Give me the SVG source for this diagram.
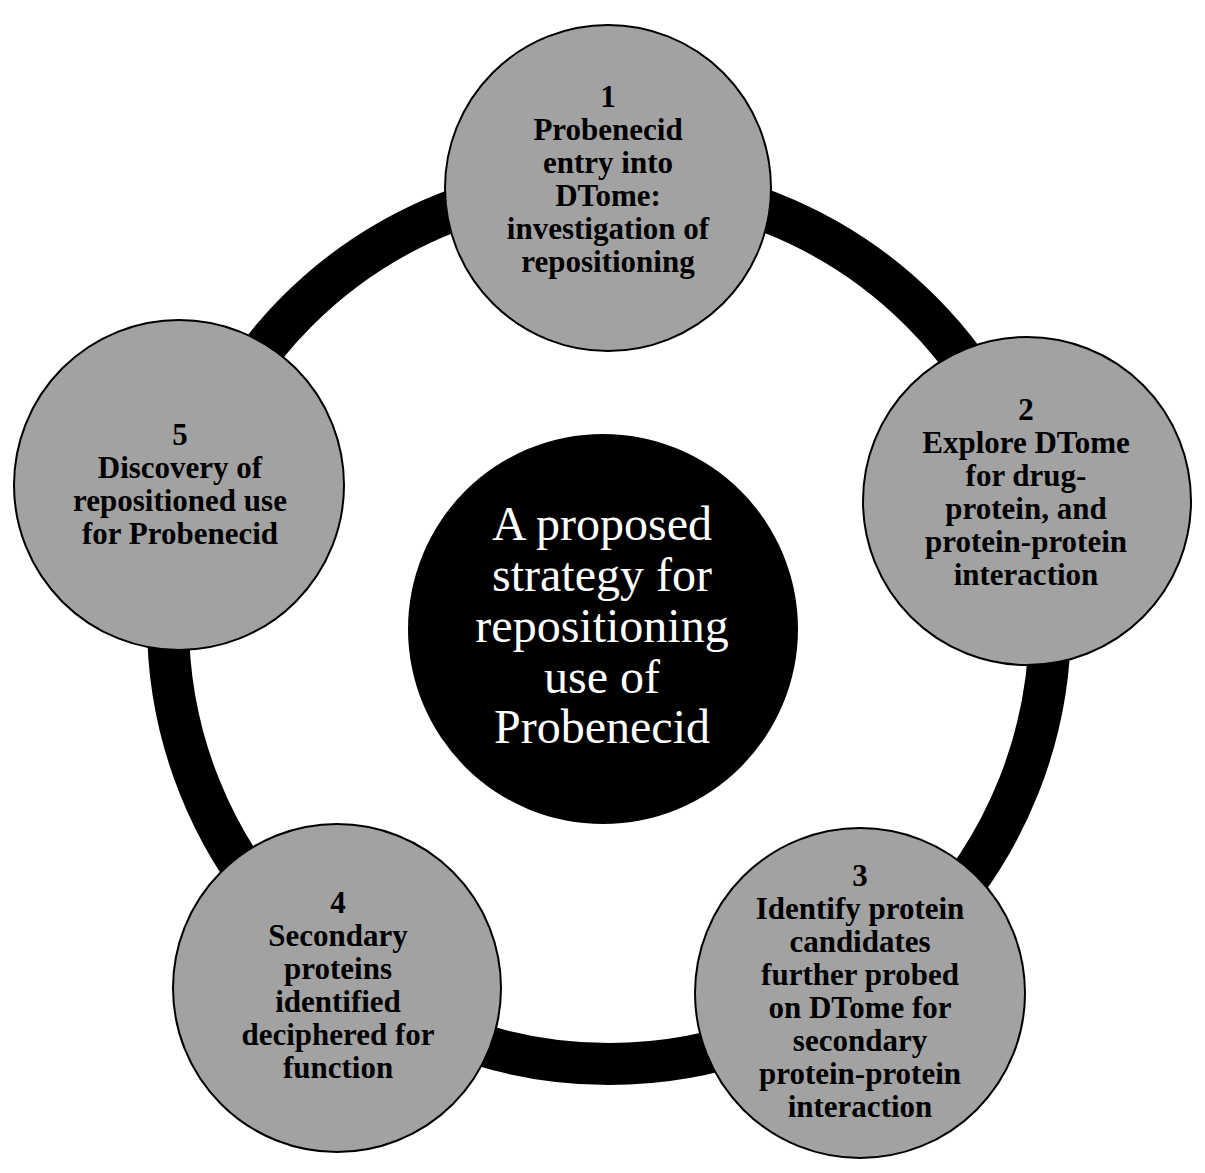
<svg xmlns="http://www.w3.org/2000/svg" width="1205" height="1173" viewBox="0 0 1205 1173">
  <style>
    .node { fill: #a2a2a2; stroke: #000; stroke-width: 2; }
    .lbl { font-family: "Liberation Serif", "Times New Roman", serif; font-weight: bold; font-size: 31px; fill: #000; text-anchor: middle; }
    .ctr { font-family: "Liberation Serif", "Times New Roman", serif; font-size: 48px; fill: #fff; text-anchor: middle; }
  </style>
  <rect width="1205" height="1173" fill="#fff"/>
  <g id="connectors">
    <circle cx="609" cy="623" r="441" fill="none" stroke="#000" stroke-width="42"/>
  </g>
  <g id="center">
    <circle cx="603" cy="629" r="195" fill="#000"/>
    <text class="ctr" x="602" y="540">A proposed</text>
    <text class="ctr" x="602" y="591">strategy for</text>
    <text class="ctr" x="602" y="642">repositioning</text>
    <text class="ctr" x="602" y="693">use of</text>
    <text class="ctr" x="602" y="743">Probenecid</text>
  </g>
  <g id="node1">
    <circle class="node" cx="608" cy="188" r="163"/>
    <text class="lbl" x="608" y="107">1</text>
    <text class="lbl" x="608" y="140">Probenecid</text>
    <text class="lbl" x="608" y="173">entry into</text>
    <text class="lbl" x="608" y="206">DTome:</text>
    <text class="lbl" x="608" y="239">investigation of</text>
    <text class="lbl" x="608" y="272">repositioning</text>
  </g>
  <g id="node2">
    <circle class="node" cx="1027" cy="501" r="164"/>
    <text class="lbl" x="1026" y="420">2</text>
    <text class="lbl" x="1026" y="453">Explore DTome</text>
    <text class="lbl" x="1026" y="486">for drug-</text>
    <text class="lbl" x="1026" y="519">protein, and</text>
    <text class="lbl" x="1026" y="552">protein-protein</text>
    <text class="lbl" x="1026" y="585">interaction</text>
  </g>
  <g id="node3">
    <circle class="node" cx="860" cy="993" r="165"/>
    <text class="lbl" x="860" y="886">3</text>
    <text class="lbl" x="860" y="919">Identify protein</text>
    <text class="lbl" x="860" y="952">candidates</text>
    <text class="lbl" x="860" y="985">further probed</text>
    <text class="lbl" x="860" y="1018">on DTome for</text>
    <text class="lbl" x="860" y="1051">secondary</text>
    <text class="lbl" x="860" y="1084">protein-protein</text>
    <text class="lbl" x="860" y="1117">interaction</text>
  </g>
  <g id="node4">
    <circle class="node" cx="337" cy="988" r="164"/>
    <text class="lbl" x="338" y="913">4</text>
    <text class="lbl" x="338" y="946">Secondary</text>
    <text class="lbl" x="338" y="979">proteins</text>
    <text class="lbl" x="338" y="1012">identified</text>
    <text class="lbl" x="338" y="1045">deciphered for</text>
    <text class="lbl" x="338" y="1078">function</text>
  </g>
  <g id="node5">
    <circle class="node" cx="179" cy="485" r="165"/>
    <text class="lbl" x="180" y="445">5</text>
    <text class="lbl" x="180" y="478">Discovery of</text>
    <text class="lbl" x="180" y="511">repositioned use</text>
    <text class="lbl" x="180" y="544">for Probenecid</text>
  </g>
</svg>
